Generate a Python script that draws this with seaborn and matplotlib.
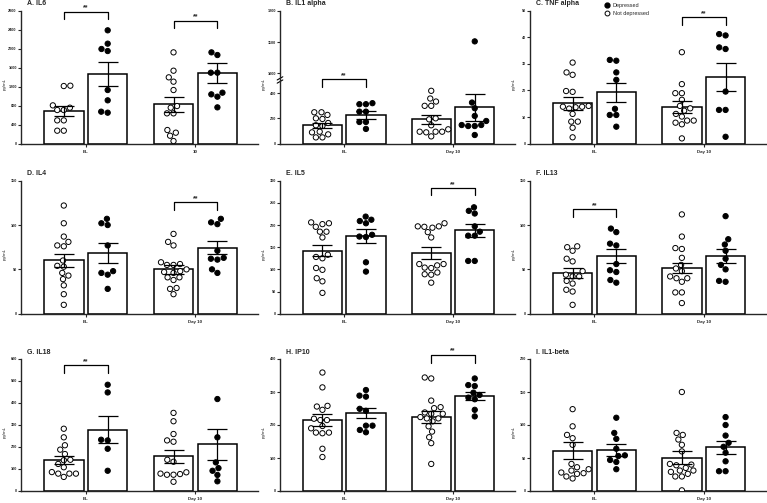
import numpy as np
import pandas as pd
import matplotlib
matplotlib.use('Agg')
import matplotlib.pyplot as plt
import seaborn as sns
from matplotlib.lines import Line2D
from matplotlib.ticker import NullLocator

sns.set_style('ticks')
plt.rcParams['font.family'] = ['Liberation Sans', 'DejaVu Sans']
plt.rcParams['font.weight'] = 'bold'

groups = ['Not depressed', 'Depressed']

# A. IL6
il6_bl_nd = [758, 709, 709, 807, 1221, 1214, 491, 491, 274, 274]
il6_bl_d = [2387, 2106, 1951, 1994, 1130, 913, 653, 674]
il6_d10_nd = [1923, 1537, 1397, 1306, 1130, 758, 793, 639, 639, 232, 288, 168, 56]
il6_d10_d = [1923, 1867, 1495, 1495, 1074, 990, 1039, 765]
il6_mean = [688, 1460, 828, 1481]
il6_sem = [105, 250, 165, 210]

# B. IL1 alpha
il1a_bl_nd = [249, 196, 140, 90, 50, 249, 201, 146, 95, 164, 50, 228, 74]
il1a_bl_d = [313, 321, 313, 254, 254, 172, 172, 117]
il1a_d10_nd = [419, 358, 300, 300, 334, 193, 201, 146, 90, 95, 95, 95, 114, 58]
il1a_d10_d = [1102, 326, 281, 220, 180, 148, 148, 140, 140, 69]
il1a_mean = [146, 228, 193, 289]
il1a_sem = [21, 33, 33, 106]

# C. TNF alpha
tnf_bl_nd = [30.5, 26.8, 25.9, 19.5, 19.8, 14.2, 13.9, 13.9, 13.7, 13.2, 11.2, 8.3, 8.3, 6.0, 2.4]
tnf_bl_d = [31.5, 31.2, 26.8, 24.0, 13.1, 10.8, 10.8, 6.4]
tnf_d10_nd = [34.4, 22.4, 19.0, 19.0, 16.5, 13.3, 14.2, 12.4, 11.2, 10.2, 8.7, 7.9, 7.3, 8.7, 2.0]
tnf_d10_d = [40.7, 41.2, 35.6, 36.2, 19.6, 12.7, 12.7, 2.6]
tnf_mean = [15.2, 19.3, 13.7, 25.0]
tnf_sem = [2.4, 3.6, 2.3, 5.3]

# D. IL4
il4_bl_nd = [122, 102, 87, 76, 77, 81, 60, 53, 54, 43, 46, 39, 32, 22, 10]
il4_bl_d = [107, 100, 102, 77, 48, 44, 46, 28]
il4_d10_nd = [90, 81, 77, 55, 58, 56, 55, 50, 48, 47, 46, 41, 41, 38, 29, 28, 22]
il4_d10_d = [103, 101, 107, 71, 63, 62, 61, 46, 50]
il4_mean = [60, 68.5, 50, 74.5]
il4_sem = [7.5, 11, 5.3, 7.5]

# E. IL5
il5_bl_nd = [196, 202, 204, 206, 185, 185, 172, 133, 125, 128, 103, 99, 80, 73, 47]
il5_bl_d = [212, 219, 209, 204, 174, 178, 173, 116, 95]
il5_d10_nd = [196, 197, 197, 194, 204, 184, 172, 112, 109, 104, 103, 112, 93, 88, 89, 70]
il5_d10_d = [232, 240, 226, 197, 185, 176, 176, 119, 119]
il5_mean = [142, 175, 137, 188]
il5_sem = [12.5, 15, 13, 15]

# F. IL13
il13_bl_nd = [76, 71, 75, 62, 59, 44, 48, 42, 37, 42, 34, 27, 25, 10]
il13_bl_d = [96, 92, 79, 77, 56, 47, 49, 35, 38]
il13_d10_nd = [112, 87, 74, 73, 63, 55, 51, 48, 40, 42, 40, 36, 24, 24, 12]
il13_d10_d = [110, 84, 78, 71, 62, 55, 50, 36, 37]
il13_mean = [46, 65, 51.5, 65]
il13_sem = [5.6, 8, 6, 8]

# G. IL18
il18_bl_nd = [283, 244, 188, 208, 168, 142, 140, 123, 108, 79, 86, 79, 79, 64]
il18_bl_d = [483, 448, 230, 233, 192, 92]
il18_d10_nd = [355, 317, 259, 224, 230, 133, 142, 85, 74, 79, 74, 77, 42]
il18_d10_d = [418, 244, 130, 92, 104, 73, 44]
il18_mean = [141, 279, 158, 213]
il18_sem = [20, 62, 30, 70]

# H. IP10
ip10_bl_nd = [359, 314, 258, 246, 256, 219, 215, 215, 197, 190, 177, 175, 177, 128, 103]
ip10_bl_d = [306, 286, 289, 243, 249, 198, 198, 178, 185]
ip10_d10_nd = [341, 344, 274, 254, 251, 234, 238, 234, 220, 220, 224, 211, 196, 180, 163, 145, 82]
ip10_d10_d = [341, 318, 321, 283, 291, 298, 278, 246, 226]
ip10_mean = [215, 237, 224, 288]
ip10_sem = [17, 16, 17, 12]

# I. IL1-beta
il1b_bl_nd = [124, 98, 80, 85, 70, 41, 36, 31, 28, 27, 26, 33, 22, 19]
il1b_bl_d = [111, 88, 79, 64, 53, 54, 47, 44, 33]
il1b_d10_nd = [150, 85, 88, 78, 70, 60, 41, 40, 39, 35, 29, 31, 31, 22, 22, 26, 1]
il1b_d10_d = [112, 100, 84, 67, 73, 58, 45, 30, 30]
il1b_mean = [61, 62, 50.5, 66]
il1b_sem = [13, 8.5, 10, 10]


# broken axis for panel B (0-400 and 1000-1200)
def fwd(v):
    v = np.asarray(v, dtype=float)
    return np.where(v <= 530, v, np.where(v >= 1000, 557.6 + (v - 1000) * 2.48,
                                          530 + (v - 530) * 27.6 / 470))


def inv(u):
    u = np.asarray(u, dtype=float)
    return np.where(u <= 530, u, np.where(u >= 557.6, 1000 + (u - 557.6) / 2.48,
                                          530 + (u - 530) * 470 / 27.6))


W, H = 767, 503


def draw_panel(ax, title, days, pts, means, sems, yticks, sig, broken=False):
    df = pd.DataFrame([(days[i // 2], groups[i % 2], v) for i, vals in enumerate(pts) for v in vals],
                      columns=['day', 'group', 'val'])
    mdf = pd.DataFrame({'day': [days[0]] * 2 + [days[1]] * 2, 'group': groups * 2, 'val': means})
    if broken:
        ax.set_yscale('function', functions=(fwd, inv))
    sns.barplot(data=mdf, x='day', y='val', hue='group', order=days, hue_order=groups,
                palette={'Not depressed': 'white', 'Depressed': 'white'}, edgecolor='black',
                linewidth=1.1, gap=0.1, errorbar=None, legend=False, ax=ax, zorder=1)
    bars = list(ax.containers[:2])
    sns.swarmplot(data=df, x='day', y='val', hue='group', order=days, hue_order=groups, dodge=True,
                  palette={'Not depressed': 'white', 'Depressed': 'black'}, edgecolor='black',
                  linewidth=0.7, size=3.8, legend=False, ax=ax, zorder=3)
    centers = {}
    for h, cont in enumerate(bars):
        for i, bar in enumerate(cont):
            x = bar.get_x() + bar.get_width() / 2
            centers[(i, h)] = x
            ax.errorbar(x, means[i * 2 + h], yerr=sems[i * 2 + h], color='black', lw=0.9,
                        capsize=7.5, capthick=0.9, zorder=4)
    for gi, top, bot in sig:
        x0, x1 = centers[(gi, 0)], centers[(gi, 1)]
        ax.plot([x0, x0, x1, x1], [bot, top, top, bot], color='black', lw=0.9, clip_on=False)
        ax.text((x0 + x1) / 2, top, '**', ha='center', va='bottom', fontsize=5, fontweight='bold')

    ax.set_xlim(-0.59, 1.57)
    ax.set_ylim(yticks[0], yticks[-1])
    ax.set_yticks(yticks)
    ax.set_yticklabels([str(t) for t in yticks])
    ax.yaxis.set_minor_locator(NullLocator())
    ax.set_xlabel('')
    ax.set_ylabel('pg/mL', fontsize=3.2)
    # label sits about 15 px left of the spine, a little below the middle
    ax.yaxis.set_label_coords(-14.5 / (ax.get_position().width * W), 0.45)
    sns.despine(ax=ax)
    for s in ['left', 'bottom']:
        ax.spines[s].set_linewidth(1.0)
    ax.tick_params(axis='x', labelsize=3.2, length=2.2, width=0.8, pad=2)
    ax.tick_params(axis='y', labelsize=2.7, length=2.0, width=0.8, pad=1)
    ax.annotate(title, xy=(0, 1), xycoords='axes fraction', xytext=(4, 2.5),
                textcoords='offset points', ha='left', va='bottom', fontsize=5, fontweight='bold')
    if broken:
        yb = fwd(505) / fwd(1200)
        for dy in (-0.012, 0.012):
            ax.plot([-0.012, 0.012], [yb + dy - 0.012, yb + dy + 0.012], color='black', lw=0.8,
                    transform=ax.transAxes, clip_on=False)


fig = plt.figure(figsize=(W / 100, H / 100), dpi=100)

cols = [(21, 258), (280, 515), (530, 766)]
rows = [(10.7, 143.7), (180.7, 313.7), (359, 491)]


def make_ax(r, c):
    x0, x1 = cols[c]
    y0, y1 = rows[r]
    return fig.add_axes([x0 / W, 1 - y1 / H, (x1 - x0) / W, (y1 - y0) / H])


days = ['BL', 'Day 10']

draw_panel(make_ax(0, 0), 'A. IL6', ['BL', '10'],
           [il6_bl_nd, il6_bl_d, il6_d10_nd, il6_d10_d], il6_mean, il6_sem,
           list(range(0, 2801, 400)), [(0, 2780, 2625), (1, 2590, 2430)])
draw_panel(make_ax(0, 1), 'B. IL1 alpha', days,
           [il1a_bl_nd, il1a_bl_d, il1a_d10_nd, il1a_d10_d], il1a_mean, il1a_sem,
           [0, 200, 400, 1000, 1100, 1200], [(0, 514, 453)], broken=True)
draw_panel(make_ax(0, 2), 'C. TNF alpha', days,
           [tnf_bl_nd, tnf_bl_d, tnf_d10_nd, tnf_d10_d], tnf_mean, tnf_sem,
           list(range(0, 51, 10)), [(1, 47.5, 44.5)])
draw_panel(make_ax(1, 0), 'D. IL4', days,
           [il4_bl_nd, il4_bl_d, il4_d10_nd, il4_d10_d], il4_mean, il4_sem,
           [0, 50, 100, 150], [(1, 125.5, 117)])
draw_panel(make_ax(1, 1), 'E. IL5', days,
           [il5_bl_nd, il5_bl_d, il5_d10_nd, il5_d10_d], il5_mean, il5_sem,
           list(range(0, 301, 50)), [(1, 284, 267)])
draw_panel(make_ax(1, 2), 'F. IL13', days,
           [il13_bl_nd, il13_bl_d, il13_d10_nd, il13_d10_d], il13_mean, il13_sem,
           [0, 50, 100, 150], [(0, 118, 108.5)])
draw_panel(make_ax(2, 0), 'G. IL18', days,
           [il18_bl_nd, il18_bl_d, il18_d10_nd, il18_d10_d], il18_mean, il18_sem,
           list(range(0, 601, 100)), [(0, 571, 536)])
draw_panel(make_ax(2, 1), 'H. IP10', days,
           [ip10_bl_nd, ip10_bl_d, ip10_d10_nd, ip10_d10_d], ip10_mean, ip10_sem,
           list(range(0, 401, 100)), [(1, 413, 387)])
draw_panel(make_ax(2, 2), 'I. IL1-beta', days,
           [il1b_bl_nd, il1b_bl_d, il1b_d10_nd, il1b_d10_d], il1b_mean, il1b_sem,
           list(range(0, 201, 50)), [])

handles = [Line2D([], [], marker='o', ls='', mfc='black', mec='black', ms=3.5, label='Depressed'),
           Line2D([], [], marker='o', ls='', mfc='white', mec='black', mew=0.7, ms=3.5, label='Not depressed')]
fig.legend(handles=handles, loc='upper left', bbox_to_anchor=(601 / W, 1.0), frameon=False,
           prop={'size': 4, 'weight': 'normal'}, handlelength=1, handletextpad=0.5,
           labelspacing=0.45, borderpad=0.1)

fig.savefig('out.png', dpi=100)
